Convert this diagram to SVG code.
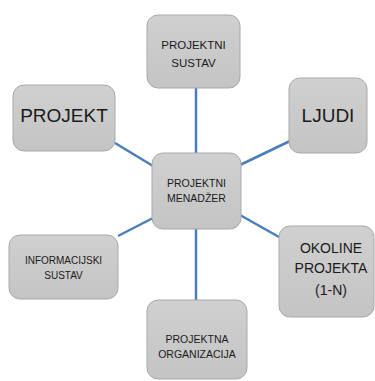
<svg xmlns="http://www.w3.org/2000/svg" width="375" height="381" viewBox="0 0 375 381">
<defs>
<linearGradient id="g" x1="0" y1="0" x2="0" y2="1">
<stop offset="0" stop-color="#d0d0d0"/>
<stop offset="1" stop-color="#c4c4c4"/>
</linearGradient>
</defs>
<style>
.box{fill:url(#g);stroke:#a9a9a9;stroke-width:1}
.t{font-family:"Liberation Sans",Arial,sans-serif;fill:#1a1a1a;text-anchor:middle}
.s{font-size:10.5px}
.m{font-size:14px}
.l{font-size:19px}
.c{stroke:#4a7ebb;stroke-width:2.5;fill:none}
</style>
<rect width="375" height="381" fill="#ffffff"/>
<g id="connectors">
<line class="c" x1="196" y1="88" x2="196" y2="153"/>
<line class="c" x1="115" y1="143" x2="153" y2="166"/>
<line class="c" x1="240" y1="165" x2="290" y2="141"/>
<line class="c" x1="118" y1="236" x2="153" y2="218"/>
<line class="c" x1="240" y1="215" x2="279" y2="237"/>
<line class="c" x1="196" y1="229" x2="196" y2="300"/>
</g>
<g id="projektni-sustav">
<rect class="box" x="147" y="15" width="93" height="73" rx="11"/>
<text class="t" font-size="11.5" x="193.5" y="49">PROJEKTNI</text>
<text class="t" font-size="11.5" x="193.5" y="67">SUSTAV</text>
</g>
<g id="projekt">
<rect class="box" x="13" y="85" width="102" height="66" rx="11"/>
<text class="t l" x="64" y="122">PROJEKT</text>
</g>
<g id="ljudi">
<rect class="box" x="289" y="78" width="78" height="75" rx="11"/>
<text class="t l" x="328" y="122">LJUDI</text>
</g>
<g id="projektni-menadzer">
<rect class="box" x="152" y="153" width="89" height="76" rx="11"/>
<text class="t s" x="196.5" y="187">PROJEKTNI</text>
<text class="t s" x="196.5" y="202">MENADŽER</text>
</g>
<g id="informacijski-sustav">
<rect class="box" x="9" y="235" width="109" height="64" rx="11"/>
<text class="t" font-size="10" x="63.5" y="264">INFORMACIJSKI</text>
<text class="t" font-size="10" x="63.5" y="279">SUSTAV</text>
</g>
<g id="okoline-projekta">
<rect class="box" x="279" y="226" width="95" height="91" rx="11"/>
<text class="t m" x="331" y="253">OKOLINE</text>
<text class="t m" x="331" y="273">PROJEKTA</text>
<text class="t m" x="331" y="295">(1-N)</text>
</g>
<g id="projektna-organizacija">
<rect class="box" x="147" y="300" width="100" height="79" rx="11"/>
<text class="t s" x="197" y="343">PROJEKTNA</text>
<text class="t s" x="197" y="358">ORGANIZACIJA</text>
</g>
</svg>
